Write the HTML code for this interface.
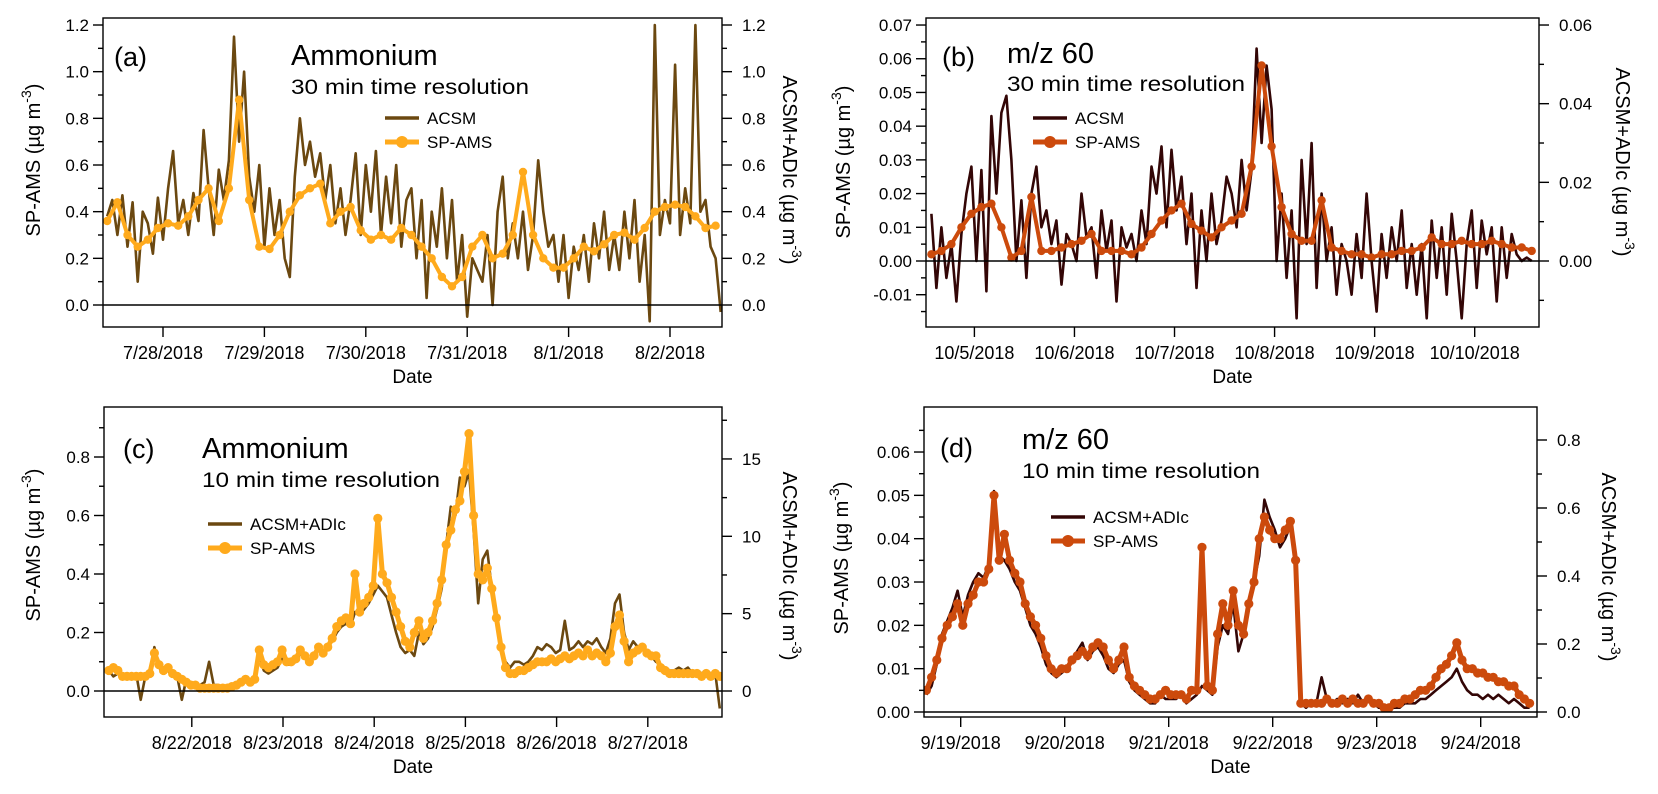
<!DOCTYPE html>
<html><head><meta charset="utf-8"><style>
html,body{margin:0;padding:0;background:#fff;}
svg{display:block;font-family:"Liberation Sans",Arial,sans-serif;}
</style></head><body>
<svg id="fig" width="1658" height="794" viewBox="0 0 1658 794">
<rect width="1658" height="794" fill="#fff"/>
</svg>
<script>
// ---------- Panel (a) data: Ammonium 30 min ----------
const aAcsmStart = -0.55, aAcsmStep = 0.05;
const aAcsm = [0.38,0.45,0.3,0.47,0.25,0.44,0.1,0.4,0.35,0.22,0.46,0.28,0.5,0.66,0.35,0.45,0.3,0.48,0.36,0.75,
0.5,0.3,0.58,0.45,0.62,1.15,0.7,1.0,0.55,0.4,0.6,0.25,0.5,0.3,0.45,0.2,0.12,0.55,0.8,0.6,
0.7,0.55,0.65,0.45,0.6,0.35,0.5,0.3,0.45,0.65,0.3,0.6,0.4,0.66,0.3,0.55,0.35,0.6,0.25,0.45,
0.5,0.2,0.45,0.03,0.4,0.25,0.5,0.2,0.45,0.1,0.3,-0.05,0.2,0.15,0.1,0.3,0.0,0.4,0.55,0.2,
0.35,0.2,0.4,0.15,0.3,0.62,0.4,0.25,0.3,0.1,0.3,0.03,0.25,0.15,0.3,0.1,0.35,0.2,0.4,0.15,
0.3,0.15,0.4,0.2,0.45,0.1,0.3,-0.07,1.2,0.3,0.45,0.35,1.03,0.3,0.5,0.35,1.2,0.4,0.45,0.25,
0.2,-0.03];
const aSpStart = -0.55, aSpStep = 0.1;
const aSp = [0.36,0.44,0.30,0.25,0.28,0.33,0.35,0.34,0.38,0.45,0.5,0.36,0.5,0.88,0.45,0.25,0.24,0.3,0.4,0.47,
0.5,0.52,0.35,0.4,0.42,0.32,0.28,0.3,0.28,0.33,0.3,0.25,0.2,0.12,0.08,0.12,0.25,0.3,0.2,0.22,
0.3,0.57,0.3,0.2,0.16,0.16,0.2,0.25,0.23,0.26,0.3,0.31,0.28,0.33,0.4,0.42,0.43,0.42,0.38,0.33,0.34];
const aDates = ['7/28/2018','7/29/2018','7/30/2018','7/31/2018','8/1/2018','8/2/2018'];
const aLeftTicks = [0,0.2,0.4,0.6,0.8,1.0,1.2];
const aLeftLabels = ['0.0','0.2','0.4','0.6','0.8','1.0','1.2'];
const aLeftMinor = [0.1,0.3,0.5,0.7,0.9,1.1];
const aRightTicks = [0,0.2,0.4,0.6,0.8,1.0,1.2];
const aRightLabels = ['0.0','0.2','0.4','0.6','0.8','1.0','1.2'];
const aRightMinor = [0.1,0.3,0.5,0.7,0.9,1.1];

// ---------- Panel (b) data: m/z 60 30 min ----------
const bAcsmStart = -0.43, bAcsmStep = 0.05;
const bAcsm = [0.014,-0.008,0.01,-0.005,0.005,-0.012,0.008,0.02,0.028,0.0,0.027,-0.009,0.043,0.02,0.044,0.049,0.03,0.0,0.018,-0.005,
0.02,0.028,0.01,0.015,0.005,0.012,-0.007,0.008,0.005,0.0,0.02,0.007,0.01,-0.005,0.015,0.003,0.012,-0.012,0.01,0.004,
0.008,0.0,0.015,0.005,0.028,0.02,0.034,0.01,0.033,0.015,0.025,0.005,0.02,-0.008,0.015,0.0,0.02,0.005,0.012,0.025,
0.02,0.01,0.03,0.015,0.027,0.063,0.035,0.058,0.045,0.0,0.02,-0.005,0.015,-0.017,0.03,0.005,0.035,-0.008,0.02,0.0,
0.01,-0.01,0.005,0.0,-0.01,0.008,-0.005,0.02,0.0,-0.015,0.008,-0.005,0.01,0.0,0.015,-0.008,0.005,-0.01,0.005,-0.017,
0.012,-0.005,0.01,-0.01,0.014,0.0,-0.017,0.005,0.015,-0.008,0.012,0.002,0.01,-0.012,0.01,-0.005,0.008,0.002,0.0,0.001,
0.0];
const bSpStart = -0.43, bSpStep = 0.1;
const bSp = [0.002,0.003,0.005,0.01,0.014,0.016,0.017,0.01,0.001,0.003,
0.019,0.003,0.003,0.004,0.005,0.006,0.008,0.003,0.003,0.003,
0.002,0.004,0.008,0.012,0.015,0.017,0.011,0.009,0.007,0.01,
0.012,0.014,0.028,0.058,0.034,0.016,0.008,0.006,0.006,0.018,
0.004,0.003,0.002,0.002,0.001,0.002,0.002,0.003,0.003,0.004,
0.007,0.005,0.005,0.006,0.005,0.005,0.006,0.005,0.004,0.004,0.003];
const bDates = ['10/5/2018','10/6/2018','10/7/2018','10/8/2018','10/9/2018','10/10/2018'];
const bLeftTicks = [-0.01,0,0.01,0.02,0.03,0.04,0.05,0.06,0.07];
const bLeftLabels = ['-0.01','0.00','0.01','0.02','0.03','0.04','0.05','0.06','0.07'];
const bLeftMinor = [-0.015,-0.005,0.005,0.015,0.025,0.035,0.045,0.055,0.065];
const bRightTicks = [0,0.02,0.04,0.06];
const bRightLabels = ['0.00','0.02','0.04','0.06'];
const bRightMinor = [-0.01,0.01,0.03,0.05];

// ---------- Panel (c) data: Ammonium 10 min ----------
const cAcsmStart = -0.91, cAcsmStep = 0.05;
const cAcsm = [0.07,0.05,0.06,0.05,0.04,0.05,0.06,-0.03,0.05,0.06,0.15,0.08,0.06,0.07,0.05,0.05,-0.03,0.04,0.03,0.02,
0.02,0.03,0.1,0.02,0.02,0.01,0.02,0.02,0.02,0.03,0.04,0.03,0.04,0.12,0.07,0.06,0.07,0.08,0.11,0.09,
0.09,0.1,0.13,0.11,0.1,0.12,0.14,0.13,0.15,0.17,0.2,0.22,0.23,0.22,0.27,0.26,0.28,0.3,0.33,0.36,
0.34,0.32,0.26,0.2,0.15,0.13,0.14,0.12,0.2,0.16,0.18,0.22,0.28,0.35,0.5,0.63,0.6,0.73,0.7,0.75,
0.55,0.3,0.45,0.48,0.35,0.25,0.15,0.1,0.08,0.1,0.1,0.09,0.1,0.12,0.15,0.14,0.16,0.15,0.13,0.14,
0.24,0.14,0.15,0.17,0.15,0.17,0.16,0.18,0.15,0.13,0.18,0.3,0.33,0.2,0.14,0.17,0.15,0.16,0.13,0.12,
0.1,0.09,0.08,0.07,0.07,0.08,0.07,0.08,0.06,0.07,0.06,0.07,0.06,0.06,-0.06];
const cSpStart = -0.91, cSpStep = 0.05;
const cSp = [0.07,0.08,0.07,0.05,0.05,0.05,0.05,0.05,0.05,0.06,0.13,0.09,0.07,0.08,0.06,0.05,0.04,0.03,0.02,0.02,
0.01,0.01,0.01,0.01,0.01,0.01,0.01,0.015,0.02,0.03,0.04,0.03,0.04,0.14,0.09,0.08,0.09,0.1,0.14,0.1,
0.1,0.11,0.14,0.12,0.1,0.12,0.15,0.13,0.15,0.18,0.22,0.24,0.25,0.23,0.4,0.27,0.3,0.32,0.36,0.59,
0.4,0.37,0.32,0.27,0.22,0.17,0.15,0.2,0.24,0.18,0.2,0.24,0.3,0.38,0.5,0.55,0.62,0.65,0.75,0.88,
0.6,0.4,0.38,0.42,0.35,0.25,0.15,0.08,0.06,0.06,0.07,0.07,0.08,0.09,0.1,0.1,0.1,0.11,0.1,0.11,
0.12,0.11,0.12,0.13,0.12,0.14,0.12,0.13,0.12,0.1,0.13,0.22,0.26,0.17,0.1,0.13,0.14,0.15,0.13,0.12,
0.12,0.08,0.07,0.06,0.06,0.06,0.06,0.06,0.06,0.06,0.05,0.06,0.05,0.06,0.05];
const cDates = ['8/22/2018','8/23/2018','8/24/2018','8/25/2018','8/26/2018','8/27/2018'];
const cLeftTicks = [0,0.2,0.4,0.6,0.8];
const cLeftLabels = ['0.0','0.2','0.4','0.6','0.8'];
const cLeftMinor = [0.1,0.3,0.5,0.7,0.9];
const cRightTicks = [0,5,10,15];
const cRightLabels = ['0','5','10','15'];
const cRightMinor = [2.5,7.5,12.5,17.5];

// ---------- Panel (d) data: m/z 60 10 min ----------
const dAcsmStart = -0.33, dAcsmStep = 0.05;
const dAcsm = [0.004,0.006,0.011,0.018,0.021,0.024,0.028,0.022,0.027,0.03,0.032,0.031,0.034,0.051,0.036,0.035,0.033,0.03,0.028,0.024,
0.02,0.018,0.015,0.011,0.009,0.008,0.009,0.01,0.012,0.014,0.016,0.012,0.014,0.015,0.013,0.01,0.009,0.011,0.012,0.007,
0.005,0.004,0.003,0.002,0.002,0.004,0.003,0.003,0.003,0.004,0.002,0.003,0.004,0.006,0.005,0.004,0.015,0.02,0.018,0.025,
0.014,0.018,0.024,0.03,0.036,0.049,0.045,0.042,0.038,0.04,0.043,0.034,0.002,0.001,0.002,0.002,0.008,0.003,0.002,0.003,
0.002,0.003,0.002,0.004,0.002,0.003,0.002,0.001,0.001,0.001,0.001,0.001,0.002,0.002,0.002,0.003,0.003,0.004,0.005,0.006,
0.007,0.008,0.01,0.007,0.005,0.004,0.004,0.003,0.004,0.003,0.004,0.003,0.002,0.003,0.002,0.001,0.001];
const dSpStart = -0.33, dSpStep = 0.05;
const dSp = [0.005,0.008,0.012,0.017,0.02,0.022,0.025,0.02,0.025,0.027,0.03,0.03,0.033,0.05,0.035,0.041,0.035,0.032,0.03,0.025,
0.022,0.02,0.017,0.013,0.01,0.009,0.01,0.01,0.012,0.013,0.014,0.013,0.015,0.016,0.015,0.012,0.01,0.012,0.015,0.008,
0.006,0.005,0.004,0.003,0.003,0.004,0.005,0.004,0.004,0.004,0.003,0.005,0.005,0.038,0.006,0.005,0.018,0.025,0.02,0.028,
0.02,0.018,0.025,0.03,0.04,0.045,0.042,0.04,0.04,0.042,0.044,0.035,0.002,0.002,0.002,0.002,0.002,0.003,0.002,0.002,
0.003,0.002,0.003,0.002,0.002,0.003,0.002,0.002,0.001,0.001,0.002,0.002,0.003,0.003,0.004,0.005,0.005,0.006,0.008,0.01,
0.011,0.013,0.016,0.012,0.01,0.01,0.009,0.009,0.008,0.008,0.007,0.007,0.006,0.006,0.004,0.003,0.002];
const dDates = ['9/19/2018','9/20/2018','9/21/2018','9/22/2018','9/23/2018','9/24/2018'];
const dLeftTicks = [0,0.01,0.02,0.03,0.04,0.05,0.06];
const dLeftLabels = ['0.00','0.01','0.02','0.03','0.04','0.05','0.06'];
const dLeftMinor = [0.005,0.015,0.025,0.035,0.045,0.055,0.065];
const dRightTicks = [0,0.2,0.4,0.6,0.8];
const dRightLabels = ['0.0','0.2','0.4','0.6','0.8'];
const dRightMinor = [0.1,0.3,0.5,0.7];

const NS = 'http://www.w3.org/2000/svg';
const svg = document.getElementById('fig');
function mk(tag, attrs, parent){
  const e = document.createElementNS(NS, tag);
  for (const k in attrs) e.setAttribute(k, attrs[k]);
  (parent||svg).appendChild(e);
  return e;
}

function drawPanel(cfg, D){
  const g = mk('g', {});
  
  
  const xOf = t => cfg.tx + t * cfg.pd;
  const yL = v => cfg.yz - v * cfg.ku;
  const yR = v => cfg.yz - v * cfg.kr;
  const clipId = 'clip' + cfg.id;
  const cp = mk('clipPath', {id: clipId}, g);
  mk('rect', {x: cfg.x0, y: cfg.y0, width: cfg.x1 - cfg.x0, height: cfg.y1 - cfg.y0}, cp);

  const sg = mk('g', {'clip-path': 'url(#' + clipId + ')'}, g);
  const ptsA = D.acsm.map((v, i) => xOf(D.acsmStart + i * D.acsmStep).toFixed(1) + ',' + yL(v).toFixed(1)).join(' ');
  const la = mk('polyline', {points: ptsA, fill: 'none', stroke: cfg.cA, 'stroke-width': 2.6, 'stroke-linejoin': 'round'}, sg);
  
  
  const ptsS = D.sp.map((v, i) => xOf(D.spStart + i * D.spStep).toFixed(1) + ',' + yL(v).toFixed(1)).join(' ');
  const ls = mk('polyline', {points: ptsS, fill: 'none', stroke: cfg.cS, 'stroke-width': cfg.sw, 'stroke-linejoin': 'round'}, sg);
  
  
  D.sp.forEach((v, i) => {
    const c = mk('circle', {cx: xOf(D.spStart + i * D.spStep).toFixed(1), cy: yL(v).toFixed(1), r: cfg.mr, fill: cfg.cS}, sg);
    
    
  });
  const zl = mk('line', {x1: cfg.x0, x2: cfg.x1, y1: yL(0), y2: yL(0), stroke: '#000', 'stroke-width': 1.4}, g);
  
  
  const fr = mk('rect', {x: cfg.x0, y: cfg.y0, width: cfg.x1 - cfg.x0, height: cfg.y1 - cfg.y0, fill: 'none', stroke: '#000', 'stroke-width': 1.4}, g);
  
  

  D.dates.forEach((lab, i) => {
    const x = xOf(i);
    mk('line', {x1: x, x2: x, y1: cfg.y1, y2: cfg.y1 + 10, stroke: '#000', 'stroke-width': 1.4}, g);
    const t = mk('text', {x: x, y: cfg.y1 + 32, 'font-size': 18, 'text-anchor': 'middle'}, g);
    t.textContent = lab;
    
    
  });
  const xt = mk('text', {x: (cfg.x0 + cfg.x1) / 2, y: cfg.y1 + 56, 'font-size': 19, 'text-anchor': 'middle'}, g);
  xt.textContent = 'Date';
  
  

  D.lt.forEach((v, i) => {
    const y = yL(v);
    mk('line', {x1: cfg.x0 - 10, x2: cfg.x0, y1: y, y2: y, stroke: '#000', 'stroke-width': 1.4}, g);
    const t = mk('text', {x: cfg.x0 - 14, y: y + 6, 'font-size': 17, 'text-anchor': 'end'}, g);
    t.textContent = D.ll[i];
    
    
  });
  D.lm.forEach(v => {
    const y = yL(v);
    if (y > cfg.y0 && y < cfg.y1) mk('line', {x1: cfg.x0 - 5, x2: cfg.x0, y1: y, y2: y, stroke: '#000', 'stroke-width': 1.4}, g);
  });
  D.rt.forEach((v, i) => {
    const y = yR(v);
    mk('line', {x1: cfg.x1, x2: cfg.x1 + 10, y1: y, y2: y, stroke: '#000', 'stroke-width': 1.4}, g);
    const t = mk('text', {x: cfg.x1 + 20, y: y + 6, 'font-size': 17, 'text-anchor': 'start'}, g);
    t.textContent = D.rl[i];
    
    
  });
  D.rm.forEach(v => {
    const y = yR(v);
    if (y > cfg.y0 && y < cfg.y1) mk('line', {x1: cfg.x1, x2: cfg.x1 + 5, y1: y, y2: y, stroke: '#000', 'stroke-width': 1.4}, g);
  });

  const lt = mk('text', {transform: 'translate(' + cfg.ltx + ',' + cfg.lty + ') rotate(-90)', 'font-size': 20, 'text-anchor': 'middle'}, g);
  lt.innerHTML = 'SP-AMS (µg m<tspan dy="-9" font-size="14">-3</tspan><tspan dy="9">)</tspan>';
  
  
  const rt = mk('text', {transform: 'translate(' + cfg.rtx + ',' + cfg.rty + ') rotate(90)', 'font-size': 20, 'text-anchor': 'middle'}, g);
  rt.innerHTML = 'ACSM+ADIc (µg m<tspan dy="-9" font-size="14">-3</tspan><tspan dy="9">)</tspan>';
  
  

  const pl = mk('text', {x: cfg.plx, y: cfg.ply, 'font-size': 27}, g);
  pl.textContent = '(' + cfg.id + ')';
  
  
  const tt = mk('text', {x: cfg.ttx, y: cfg.tty, 'font-size': 29}, g);
  tt.textContent = cfg.title;
  
  
  const st = mk('text', {x: cfg.ttx, y: cfg.sty, 'font-size': 21, textLength: 238, lengthAdjust: 'spacingAndGlyphs'}, g);
  st.textContent = cfg.sub;
  
  

  const lgA = mk('line', {x1: cfg.lgx, x2: cfg.lgx + 34, y1: cfg.lgy, y2: cfg.lgy, stroke: cfg.cA, 'stroke-width': 3.5}, g);
  
  
  const la1 = mk('text', {x: cfg.lgx + 42, y: cfg.lgy + 6, 'font-size': 17}, g);
  la1.textContent = cfg.acsmName;
  
  
  const y2 = cfg.lgy + 24;
  const lgS = mk('line', {x1: cfg.lgx, x2: cfg.lgx + 34, y1: y2, y2: y2, stroke: cfg.cS, 'stroke-width': 5}, g);
  
  
  mk('circle', {cx: cfg.lgx + 17, cy: y2, r: 6, fill: cfg.cS}, g);
  const la2 = mk('text', {x: cfg.lgx + 42, y: y2 + 6, 'font-size': 17}, g);
  la2.textContent = 'SP-AMS';
  
  
}

drawPanel({id:'a', x0:103, x1:722, y0:18, y1:327, tx:163, pd:101.4, yz:305, ku:233.33, kr:233.33, sw:4, mr:4.2,
  cA:'#6b4810', cS:'#ffaa1c', ltx:40, lty:160, rtx:783, rty:170, plx:114, ply:66, ttx:291, tty:65, sty:94,
  title:'Ammonium', sub:'30 min time resolution', lgx:385, lgy:118, acsmName:'ACSM'},
  {acsm:aAcsm, acsmStart:aAcsmStart, acsmStep:aAcsmStep, sp:aSp, spStart:aSpStart, spStep:aSpStep,
   dates:aDates, lt:aLeftTicks, ll:aLeftLabels, lm:aLeftMinor, rt:aRightTicks, rl:aRightLabels, rm:aRightMinor});
drawPanel({id:'b', x0:926, x1:1539, y0:18, y1:327, tx:974.4, pd:100.06, yz:261, ku:3371, kr:3933, sw:4, mr:4.2,
  cA:'#330606', cS:'#cc4a0c', ltx:850, lty:162, rtx:1616, rty:162, plx:942, ply:66, ttx:1007, tty:63, sty:91,
  title:'m/z 60', sub:'30 min time resolution', lgx:1033, lgy:118, acsmName:'ACSM'},
  {acsm:bAcsm, acsmStart:bAcsmStart, acsmStep:bAcsmStep, sp:bSp, spStart:bSpStart, spStep:bSpStep,
   dates:bDates, lt:bLeftTicks, ll:bLeftLabels, lm:bLeftMinor, rt:bRightTicks, rl:bRightLabels, rm:bRightMinor});
drawPanel({id:'c', x0:104, x1:722, y0:407, y1:717, tx:191.8, pd:91.2, yz:691, ku:292.5, kr:15.47, sw:5, mr:4.6,
  cA:'#6b4810', cS:'#ffaa1c', ltx:40, lty:545, rtx:783, rty:566, plx:123, ply:458, ttx:202, tty:458, sty:487,
  title:'Ammonium', sub:'10 min time resolution', lgx:208, lgy:524, acsmName:'ACSM+ADIc'},
  {acsm:cAcsm, acsmStart:cAcsmStart, acsmStep:cAcsmStep, sp:cSp, spStart:cSpStart, spStep:cSpStep,
   dates:cDates, lt:cLeftTicks, ll:cLeftLabels, lm:cLeftMinor, rt:cRightTicks, rl:cRightLabels, rm:cRightMinor});
drawPanel({id:'d', x0:924, x1:1537, y0:407, y1:717, tx:960.7, pd:104, yz:712, ku:4333, kr:340, sw:5, mr:4.6,
  cA:'#330606', cS:'#cc4a0c', ltx:848, lty:558, rtx:1602, rty:567, plx:940, ply:457, ttx:1022, tty:449, sty:478,
  title:'m/z 60', sub:'10 min time resolution', lgx:1051, lgy:517, acsmName:'ACSM+ADIc'},
  {acsm:dAcsm, acsmStart:dAcsmStart, acsmStep:dAcsmStep, sp:dSp, spStart:dSpStart, spStep:dSpStep,
   dates:dDates, lt:dLeftTicks, ll:dLeftLabels, lm:dLeftMinor, rt:dRightTicks, rl:dRightLabels, rm:dRightMinor});
</script>
</body></html>
